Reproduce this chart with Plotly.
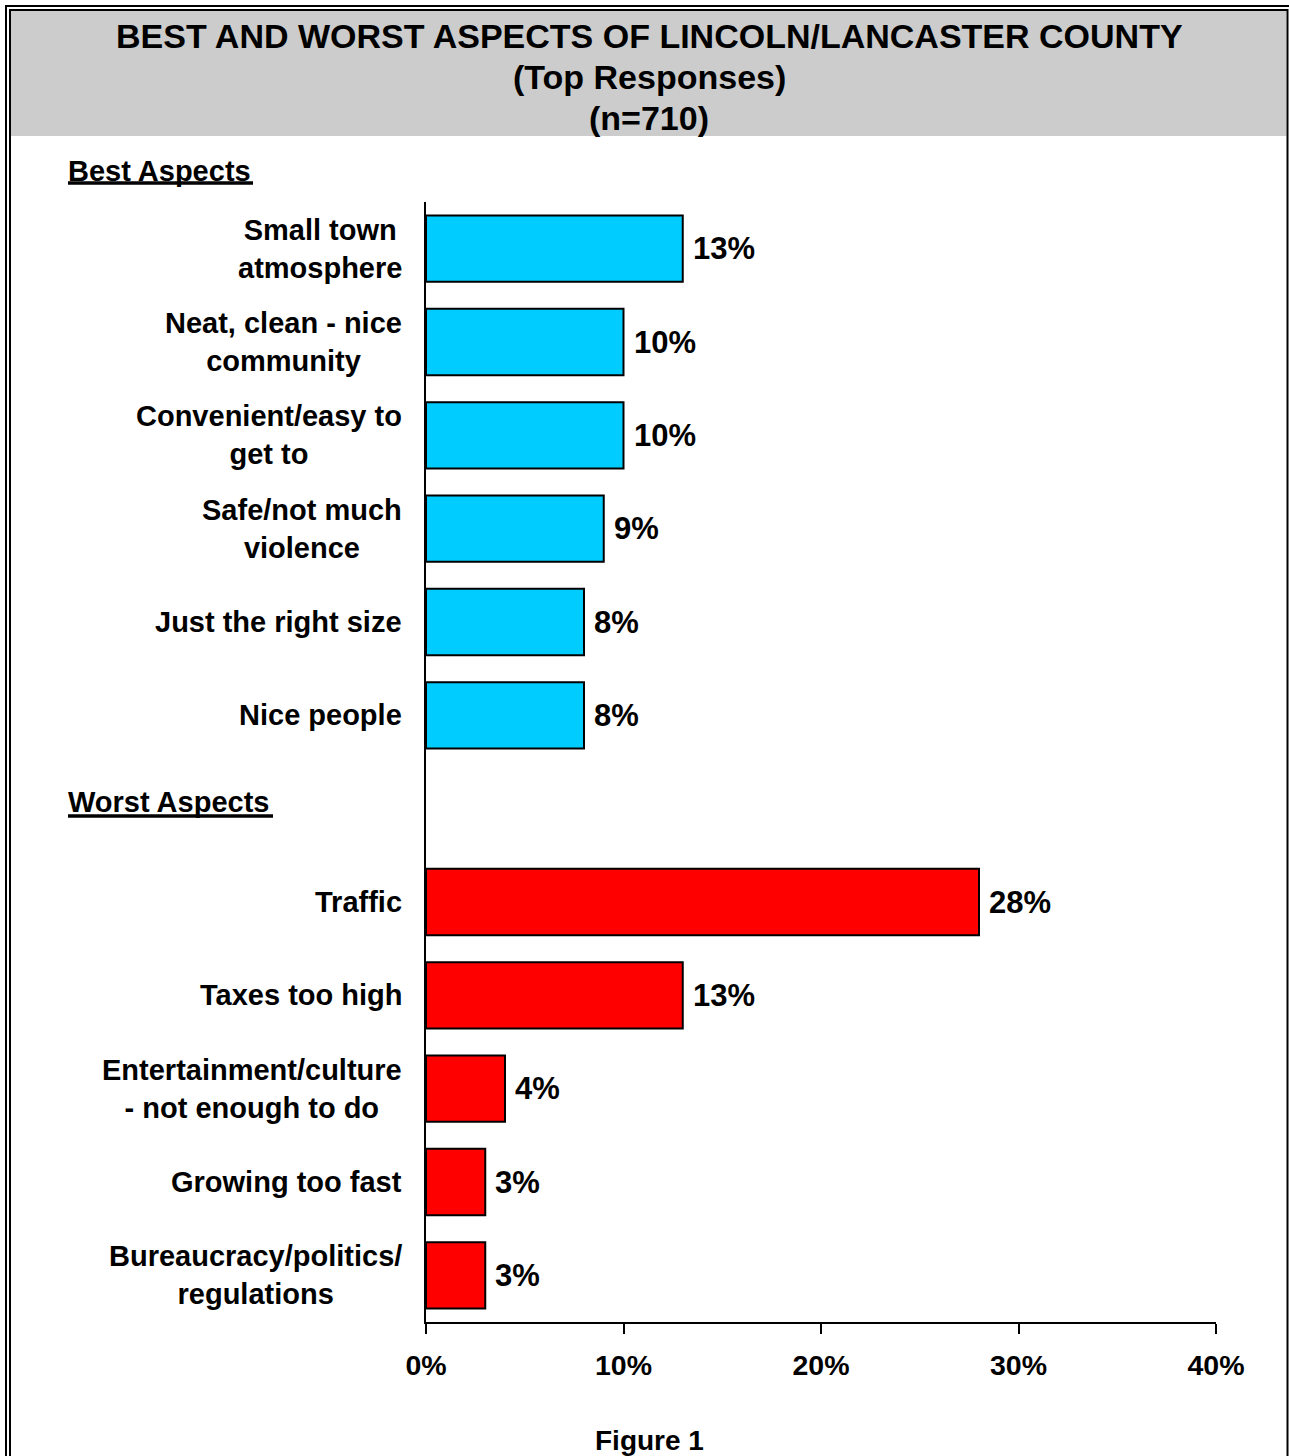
import plotly.graph_objects as go

best_labels = ["Small town<br>atmosphere", "Neat, clean - nice<br>community", "Convenient/easy to<br>get to",
               "Safe/not much<br>violence", "Just the right size", "Nice people"]
best_values = [13, 10, 10, 9, 8, 8]
worst_labels = ["Traffic", "Taxes too high", "Entertainment/culture<br>- not enough to do",
                "Growing too fast", "Bureaucracy/politics/<br>regulations"]
worst_values = [28, 13, 4, 3, 3]
x_ticks = [0, 10, 20, 30, 40]
x_ticklabels = ["0%", "10%", "20%", "30%", "40%"]

title_lines = ["BEST AND WORST ASPECTS OF LINCOLN/LANCASTER COUNTY", "(Top Responses)", "(n=710)"]

W, H = 1289, 1456
L, R, T, B = 426, 1216, 202, 1322
def px(x): return (x - L) / (R - L)
def py(y): return (B - y) / (B - T)

FONT = "Liberation Sans, Arial, sans-serif"

best_pos = list(range(len(best_labels)))
worst_pos = [len(best_labels) + 1 + i for i in range(len(worst_labels))]
n_slots = len(best_labels) + 1 + len(worst_labels)

fig = go.Figure()
fig.add_trace(go.Bar(y=best_pos, x=best_values, orientation="h", width=0.71,
                     marker=dict(color="#00CCFF", line=dict(color="black", width=2)),
                     showlegend=False, hoverinfo="skip"))
fig.add_trace(go.Bar(y=worst_pos, x=worst_values, orientation="h", width=0.71,
                     marker=dict(color="#FF0000", line=dict(color="black", width=2)),
                     showlegend=False, hoverinfo="skip"))

ann = []
for lab, pos in zip(best_labels + worst_labels, best_pos + worst_pos):
    ann.append(dict(text=f"<b>{lab}</b>", x=0, xref="paper", y=pos, yref="y",
                    xanchor="right", yanchor="middle", align="center", xshift=-22,
                    showarrow=False, font=dict(size=29, color="black", family=FONT)))
for val, pos in zip(best_values + worst_values, best_pos + worst_pos):
    ann.append(dict(text=f"<b>{val}%</b>", x=val, xref="x", y=pos, yref="y",
                    xanchor="left", yanchor="middle", xshift=8,
                    showarrow=False, font=dict(size=31, color="black", family=FONT)))
for line, yy in zip(title_lines, [36, 77, 118]):
    ann.append(dict(text=f"<b>{line}</b>", x=px(649), xref="paper", y=py(yy), yref="paper",
                    xanchor="center", yanchor="middle", showarrow=False,
                    font=dict(size=34, color="black", family=FONT)))
ann.append(dict(text="<b>Best Aspects</b>", x=px(66), xref="paper", y=py(171), yref="paper",
                xanchor="left", yanchor="middle", showarrow=False,
                font=dict(size=29, color="black", family=FONT)))
ann.append(dict(text="<b>Worst Aspects</b>", x=px(66), xref="paper", y=py(802), yref="paper",
                xanchor="left", yanchor="middle", showarrow=False,
                font=dict(size=29, color="black", family=FONT)))
ann.append(dict(text="<b>Figure 1</b>", x=px(649), xref="paper", y=py(1440), yref="paper",
                xanchor="center", yanchor="middle", showarrow=False,
                font=dict(size=28, color="black", family=FONT)))

shapes = [
    dict(type="rect", xref="paper", yref="paper", x0=px(11), x1=px(1286.5), y0=py(11), y1=py(136),
         fillcolor="#CCCCCC", line=dict(width=0), layer="below"),
    dict(type="rect", xref="paper", yref="paper", x0=px(6), x1=px(1300), y0=py(6), y1=py(1480),
         line=dict(color="black", width=2), fillcolor="rgba(0,0,0,0)"),
    dict(type="rect", xref="paper", yref="paper", x0=px(10), x1=px(1287.5), y0=py(10), y1=py(1480),
         line=dict(color="black", width=2), fillcolor="rgba(0,0,0,0)"),
    # underlines of the section headers
    dict(type="line", xref="paper", yref="paper", x0=px(68), x1=px(253), y0=py(183), y1=py(183),
         line=dict(color="black", width=3.5)),
    dict(type="line", xref="paper", yref="paper", x0=px(68), x1=px(273), y0=py(816), y1=py(816),
         line=dict(color="black", width=3.5)),
]

fig.update_layout(
    width=W, height=H, autosize=False,
    margin=dict(l=L, r=W - R, t=T, b=H - B, pad=0),
    paper_bgcolor="white", plot_bgcolor="white",
    font=dict(family=FONT, color="black"),
    annotations=ann, shapes=shapes,
)
fig.update_xaxes(range=[0, 40], tickvals=x_ticks, ticktext=[f"<b>{t}</b>" for t in x_ticklabels],
                 tickfont=dict(size=28.5, color="black", family=FONT),
                 ticks="outside", ticklen=10, tickwidth=2, tickcolor="black", ticklabelstandoff=7,
                 showline=True, linewidth=2, linecolor="black", showgrid=False, zeroline=False,
                 fixedrange=True)
fig.update_yaxes(range=[n_slots - 0.5, -0.5], showticklabels=False, ticks="",
                 showline=True, linewidth=2, linecolor="black", showgrid=False, zeroline=False,
                 fixedrange=True)

fig.write_html("out.html", config={"displayModeBar": False},
               post_script="document.body.style.margin='0px';document.body.style.overflow='hidden';")
